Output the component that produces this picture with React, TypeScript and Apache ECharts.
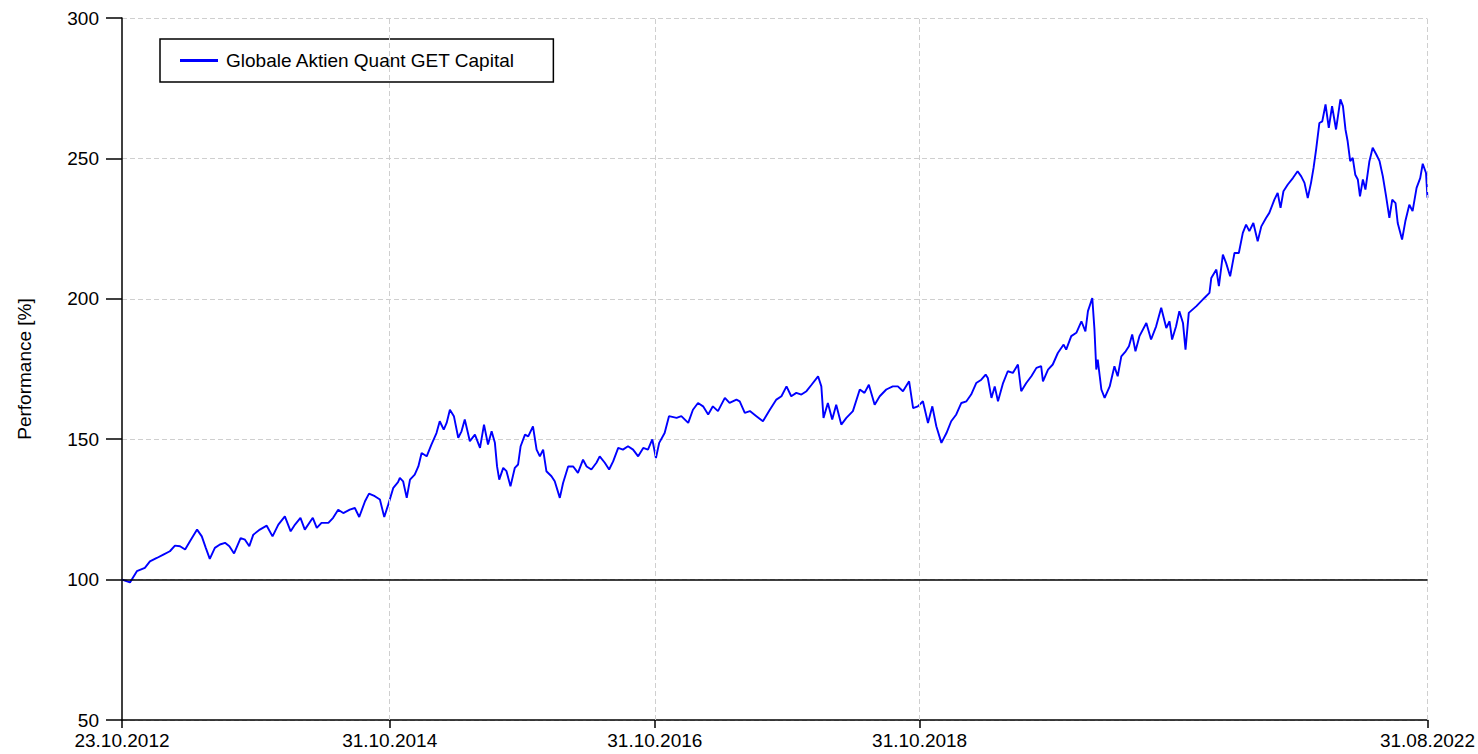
import { useEffect, useRef } from "react";
import * as echarts from "echarts";

const seriesName = "Globale Aktien Quant GET Capital";
const axisName = "Performance [%]";
const startDate = "2012-10-23";
const xTickDates = ["2012-10-23", "2014-10-31", "2016-10-31", "2018-10-31", "2022-08-31"];
const xGridDates = ["2014-10-31", "2016-10-31", "2018-10-31", "2022-08-31"];
const yMin = 50;
const yMax = 300;
const yStep = 50;
const baseline = 100;

// days since launch (23.10.2012)
const dayOffsets = [
  0, 22, 41, 63, 77, 96, 114, 132, 146, 160,
  174, 187, 207, 220, 231, 242, 256, 270, 284, 296,
  309, 327, 339, 351, 362, 380, 399, 415, 431, 449,
  465, 477, 492, 504, 526, 537, 550, 569, 582, 596,
  610, 628, 642, 654, 670, 681, 697, 711, 723, 734,
  748, 761,
  766, 775, 785, 794, 807, 817, 826, 840, 853, 867,
  876, 887, 895, 904, 915, 927, 936, 945, 959, 973,
  987, 998, 1009, 1019, 1028, 1034, 1040, 1051, 1060, 1071,
  1083, 1092, 1099, 1111, 1120, 1133, 1143, 1152, 1161, 1170,
  1184, 1193, 1207, 1216, 1230, 1244, 1257, 1271, 1281, 1294,
  1308, 1317, 1331, 1343, 1354, 1368, 1381, 1395, 1409, 1423,
  1437, 1450, 1462, 1472, 1481, 1496, 1508, 1529, 1542, 1561,
  1574, 1588, 1602, 1616, 1629, 1643, 1662, 1675, 1694, 1703,
  1717, 1731, 1749, 1767, 1786, 1804, 1818, 1832, 1845, 1859,
  1873, 1887, 1901, 1919, 1928, 1934, 1946, 1958, 1969, 1983,
  1997, 2015, 2034, 2047, 2059, 2075, 2089, 2107, 2125, 2139,
  2153, 2170, 2181, 2194, 2208, 2222, 2234, 2245, 2259, 2273,
  2286, 2300, 2314, 2328, 2341, 2355, 2369, 2381, 2387, 2397,
  2406, 2415, 2429, 2442, 2456, 2470, 2479, 2493, 2507, 2521,
  2534, 2539, 2553, 2566, 2580, 2596, 2603, 2617, 2631, 2645,
  2656, 2663, 2675, 2681, 2686, 2690, 2700, 2709, 2723, 2736,
  2745, 2755, 2767, 2776, 2785, 2794, 2805, 2824, 2837, 2851,
  2865, 2879, 2888, 2895, 2906, 2915, 2925, 2932, 2941, 2962,
  2984, 2998, 3003, 3017, 3024, 3035, 3044, 3055, 3067, 3079,
  3090, 3099, 3108, 3119, 3131, 3141, 3154, 3163, 3177, 3186,
  3194, 3202, 3214, 3228, 3241, 3251, 3260, 3269, 3278, 3285,
  3292, 3301, 3309, 3318, 3327, 3336, 3347, 3359, 3366, 3373,
  3379, 3386, 3393, 3400, 3407, 3413, 3421, 3428, 3439, 3448,
  3458, 3467, 3476, 3485, 3494, 3502, 3511, 3517, 3529, 3538,
  3549, 3558, 3569, 3579, 3586, 3595, 3599,
];

// performance in % (start = 100)
const performance = [
  100, 99, 103, 104.2, 106.5, 107.7, 108.9, 110.1, 112.1, 111.9,
  110.7, 113.6, 117.8, 115.4, 111.3, 107.4, 111.3, 112.5, 113.1, 111.9,
  109.3, 114.8, 114.2, 111.9, 116, 117.8, 119.2, 115.4, 119.6, 122.5,
  117.2, 119.6, 122, 117.8, 122, 118.4, 120.2, 120.2, 122, 124.9,
  123.7, 124.9, 125.5, 122.3, 127.9, 130.6, 129.7, 128.5, 122.3, 126.7,
  132.7, 134.7,
  136.2, 135, 129.1, 135.6, 137.4, 140.3, 145.1, 143.9, 148.1, 152.2,
  156.4, 153.4, 155.8, 160.5, 158.2, 150.5, 152.8, 157, 149.3, 151.6,
  146.9, 155.2, 148.1, 152.8, 148.7, 140.3, 135.6, 139.8, 138.6, 133.2,
  139.8, 141, 147.5, 151.6, 151, 154.6, 146.3, 143.9, 146.3, 138.6,
  136.8, 135, 129.1, 134.4, 140.3, 140.3, 138, 142.7, 140.3, 139.2,
  141.6, 143.9, 141.6, 139.2, 142.1, 146.9, 146.3, 147.5, 146.3, 143.9,
  146.9, 146.3, 149.9, 143.3, 148.7, 152.2, 158.2, 157.6, 158.2, 155.8,
  160.5, 162.9, 161.7, 158.8, 161.7, 160, 164.7, 162.9, 164.1, 163.5,
  159.4, 160, 158.2, 156.4, 160.5, 164.1, 165.3, 168.8, 165.3, 166.5,
  165.9, 167.1, 169.4, 172.4, 168.8, 157.6, 162.9, 157, 162.3, 155.2,
  157.6, 160, 167.7, 166.5, 169.4, 162.3, 165.3, 167.7, 168.8, 168.8,
  167.1, 170.6, 161.1, 161.7, 163.5, 155.8, 161.7, 154.6, 148.7, 152.2,
  156.4, 158.8, 162.9, 163.5, 165.9, 170, 171.2, 173, 171.8, 164.7,
  168.8, 163.5, 170, 174.2, 173.6, 176.6, 167.1, 170, 172.4, 175.4,
  176, 170.6, 174.8, 176.6, 180.7, 183.7, 181.9, 186.7, 187.9, 192,
  188.4, 195.6, 200.3, 189, 174.8, 178.3, 167.7, 164.7, 168.8, 176,
  172.4, 179.5, 181.3, 183.1, 187.3, 181.3, 186.7, 191.4, 185.5, 190.2,
  196.8, 189.6, 192, 185.5, 190.2, 195.6, 191.4, 181.9, 195, 197.4,
  200.3, 202.1, 207.4, 210.4, 204.5, 215.7, 212.7, 208, 216.3, 216.3,
  223.5, 226.4, 224.1, 227, 220.5, 225.8, 228.8, 230.6, 235.3, 237.7,
  232.4, 238.3, 240.7, 243, 245.4, 243.6, 241.3, 235.9, 241.3, 246.6,
  253.1, 262.6, 263.2, 269.2, 260.9, 268.6, 260.3, 271, 268.6, 260.3,
  256.1, 249, 250.2, 244.2, 242.5, 236.5, 242.5, 238.9, 249, 253.8,
  251.4, 249, 243.6, 236.5, 228.8, 235.3, 234.1, 227, 221.1, 227.6,
  233.5, 231.2, 239.5, 243, 248.1, 244.8, 236,
];

const DAY = 86400000;

function toUtc(s: string): number {
  const [y, m, d] = s.split("-").map(Number);
  return Date.UTC(y, m - 1, d);
}

const startUtc = toUtc(startDate);

function toDay(s: string): number {
  return Math.round((toUtc(s) - startUtc) / DAY);
}

function fmtDay(day: number): string {
  const d = new Date(startUtc + Math.round(day) * DAY);
  const p = (n: number) => (n < 10 ? "0" + n : "" + n);
  return p(d.getUTCDate()) + "." + p(d.getUTCMonth() + 1) + "." + d.getUTCFullYear();
}

const FONT = "'Liberation Sans', Arial, sans-serif";

export default function App() {
  const ref = useRef<HTMLDivElement>(null);

  useEffect(() => {
    document.body.style.margin = "0";
    document.body.style.overflow = "hidden";
    if (!ref.current) return;
    const chart = echarts.init(ref.current, undefined, { renderer: "svg" });

    const n = Math.min(dayOffsets.length, performance.length);
    const data: [number, number][] = [];
    for (let i = 0; i < n; i++) data.push([dayOffsets[i], performance[i]]);
    const tickDays = xTickDates.map(toDay);

    chart.setOption({
      animation: false,
      backgroundColor: "#ffffff",
      textStyle: { fontFamily: FONT },
      grid: { left: 122, right: 50, top: 18, bottom: 34, containLabel: false },
      legend: {
        show: true,
        data: [{ name: seriesName, icon: "rect" }],
        left: 160,
        top: 39,
        orient: "horizontal",
        padding: [12, 38, 12, 20],
        borderColor: "#000000",
        borderWidth: 1.5,
        backgroundColor: "#ffffff",
        itemWidth: 38,
        itemHeight: 3,
        selectedMode: false,
        itemStyle: { color: "#0000ff", borderWidth: 0 },
        textStyle: { fontSize: 19, color: "#000000", fontFamily: FONT, padding: [0, 0, 0, 3] },
      },
      xAxis: {
        type: "value",
        min: tickDays[0],
        max: tickDays[tickDays.length - 1],
        axisLine: { show: true, onZero: false, lineStyle: { color: "#000000", width: 1.5 } },
        axisTick: {
          show: true,
          customValues: tickDays,
          length: 8,
          lineStyle: { color: "#000000", width: 1.5 },
        },
        axisLabel: {
          show: true,
          customValues: tickDays,
          formatter: (v: number) => fmtDay(v),
          fontSize: 19,
          lineHeight: 16,
          color: "#000000",
          margin: 12,
          fontFamily: FONT,
          hideOverlap: false,
          showMinLabel: true,
          showMaxLabel: true,
        },
        splitLine: { show: false },
      },
      yAxis: {
        type: "value",
        min: yMin,
        max: yMax,
        interval: yStep,
        name: axisName,
        nameLocation: "middle",
        nameGap: 88,
        nameTextStyle: { fontSize: 19, color: "#000000", fontFamily: FONT },
        axisLine: { show: true, lineStyle: { color: "#000000", width: 1.5 } },
        axisTick: { show: true, length: 16, lineStyle: { color: "#000000", width: 1.5 } },
        axisLabel: { fontSize: 19, lineHeight: 16, color: "#000000", margin: 23, fontFamily: FONT },
        splitLine: {
          show: true,
          lineStyle: { color: "#cfcfcf", width: 1, type: [5, 3] },
        },
      },
      series: [
        {
          name: "grid",
          type: "line",
          data: [],
          z: 1,
          silent: true,
          markLine: {
            silent: true,
            symbol: "none",
            animation: false,
            label: { show: false },
            emphasis: { disabled: true },
            data: [
              ...xGridDates.map((d) => ({
                xAxis: toDay(d),
                lineStyle: { color: "#cfcfcf", width: 1, type: [5, 3] },
              })),
              { yAxis: baseline, lineStyle: { color: "#000000", width: 1.5, type: "solid" } },
            ],
          },
        },
        {
          name: seriesName,
          type: "line",
          data,
          z: 3,
          symbol: "none",
          showSymbol: false,
          color: "#0000ff",
          lineStyle: { color: "#0000ff", width: 1.9 },
          emphasis: { disabled: true },
        },
      ],
    });

    return () => chart.dispose();
  }, []);

  return <div ref={ref} style={{ width: 1478, height: 754 }} />;
}
